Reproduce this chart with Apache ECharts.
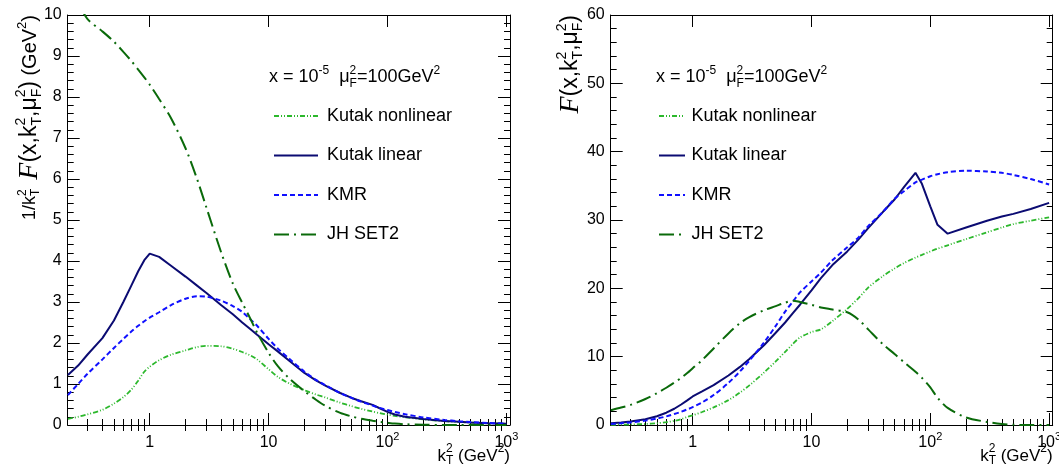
<!DOCTYPE html>
<html><head><meta charset="utf-8">
<script src="https://cdn.jsdelivr.net/npm/echarts@6/dist/echarts.min.js"></script>
<style>html,body{margin:0;padding:0;background:#fff}#c{width:1059px;height:475px}</style>
</head><body><div id="c"></div>
<script>
// ---------------- data ----------------
const kt2 = [0.205, 0.25, 0.3, 0.4, 0.5, 0.6, 0.7, 0.8, 0.9, 1, 1.2, 1.5, 2, 2.5, 3, 4, 5, 6, 7, 8,
             10, 12, 15, 20, 25, 30, 40, 50, 60, 75, 85, 100, 115, 140, 200, 300, 400, 500, 700, 1000];

// left panel: 1/kT^2 F(x,kT^2,muF^2)
const kutakNonlinearL = [0.15, 0.2, 0.26, 0.37, 0.52, 0.68, 0.86, 1.08, 1.30, 1.42, 1.58, 1.71, 1.82, 1.90, 1.93, 1.92, 1.86, 1.78, 1.70, 1.60,
                         1.36, 1.17, 1.01, 0.85, 0.744, 0.67, 0.545, 0.458, 0.395, 0.327, 0.293, 0.254, 0.224, 0.188, 0.136, 0.094, 0.072, 0.059, 0.043, 0.030];
const kutakLinearL    = [1.22, 1.45, 1.72, 2.12, 2.55, 3.0, 3.4, 3.75, 4.02, 4.18, 4.10, 3.89, 3.62, 3.40, 3.22, 2.92, 2.70, 2.50, 2.34, 2.20,
                         1.97, 1.79, 1.56, 1.27, 1.09, 0.96, 0.78, 0.66, 0.58, 0.49, 0.415, 0.32, 0.255, 0.20, 0.145, 0.10, 0.077, 0.062, 0.045, 0.0325];
const kmrL            = [0.73, 1.0, 1.25, 1.6, 1.88, 2.1, 2.28, 2.42, 2.53, 2.62, 2.75, 2.92, 3.08, 3.14, 3.13, 3.03, 2.90, 2.76, 2.58, 2.42,
                         2.10, 1.86, 1.61, 1.30, 1.10, 0.97, 0.78, 0.66, 0.57, 0.473, 0.42, 0.364, 0.319, 0.264, 0.186, 0.124, 0.092, 0.073, 0.051, 0.035];
const jhSet2L         = [10.7, 10.3, 9.9, 9.6, 9.35, 9.1, 8.88, 8.67, 8.48, 8.3, 7.95, 7.5, 6.75, 6.0, 5.3, 4.2, 3.45, 2.98, 2.6, 2.25,
                         1.76, 1.43, 1.13, 0.825, 0.616, 0.467, 0.295, 0.208, 0.153, 0.104, 0.081, 0.055, 0.035, 0.018, 0.0055, 0.0015, 0.0004, 0.0001, 0, 0];

// right panel: F(x,kT^2,muF^2)
const kutakNonlinearR = [0.03, 0.05, 0.078, 0.148, 0.26, 0.41, 0.6, 0.86, 1.17, 1.42, 1.9, 2.57, 3.64, 4.75, 5.8, 7.7, 9.3, 10.7, 11.9, 12.8,
                         13.6, 14.0, 15.2, 17.0, 18.6, 20.1, 21.8, 22.9, 23.7, 24.5, 24.9, 25.4, 25.8, 26.3, 27.2, 28.2, 28.9, 29.4, 29.9, 30.4];
const kutakLinearR    = [0.25, 0.36, 0.52, 0.85, 1.28, 1.8, 2.38, 3.0, 3.6, 4.18, 4.92, 5.84, 7.24, 8.5, 9.66, 11.7, 13.5, 15.0, 16.4, 17.6,
                         19.7, 21.5, 23.4, 25.4, 27.2, 28.8, 31.2, 33.0, 34.8, 36.9, 35.3, 32.0, 29.3, 28.0, 28.9, 29.9, 30.5, 30.9, 31.6, 32.5];
const kmrR            = [0.15, 0.25, 0.375, 0.64, 0.94, 1.26, 1.6, 1.94, 2.28, 2.62, 3.3, 4.38, 6.16, 7.85, 9.4, 12.1, 14.5, 16.6, 18.1, 19.4,
                         21.0, 22.3, 24.1, 26.0, 27.5, 29.1, 31.2, 33.1, 34.2, 35.5, 35.9, 36.4, 36.7, 37.0, 37.2, 37.1, 36.9, 36.6, 36.0, 35.2];
const jhSet2R         = [2.15, 2.55, 2.95, 3.8, 4.65, 5.45, 6.2, 6.9, 7.6, 8.3, 9.5, 11.2, 13.4, 14.9, 15.8, 16.8, 17.4, 17.9, 18.2, 18.0,
                         17.6, 17.2, 16.9, 16.5, 15.4, 14.0, 11.8, 10.4, 9.2, 7.8, 6.9, 5.5, 4.0, 2.5, 1.1, 0.45, 0.15, 0.04, 0, 0];

const seriesNames = ['Kutak nonlinear', 'Kutak linear', 'KMR', 'JH SET2'];
const xMajorTicks = [1, 10, 100, 1000];
const xMinorTicks = [0.3, 0.4, 0.5, 0.6, 0.7, 0.8, 0.9, 2, 3, 4, 5, 6, 7, 8, 9,
                     20, 30, 40, 50, 60, 70, 80, 90, 200, 300, 400, 500, 600, 700, 800, 900];
const xRange = [0.2042, 1072];     // k_T^2 range of the frame
const yRangeL = [0, 10];
const yRangeR = [0, 60];

// ---------------- helpers ----------------
const SANS = '"Liberation Sans", Arial, Helvetica, sans-serif';
const SERIF = '"Liberation Serif", "Times New Roman", serif';
const lg = Math.log10;
const styles = {
  'Kutak nonlinear': {color: '#2cb82c', width: 1.8, type: [5, 2, 1, 2, 1, 2], smooth: 0.3},
  'Kutak linear':    {color: '#0b0b72', width: 2,   type: 'solid', smooth: false},
  'KMR':             {color: '#1010ff', width: 2,   type: [5, 3], smooth: 0.3},
  'JH SET2':         {color: '#0a6a0a', width: 2,   type: [15, 5, 2, 5], smooth: 0.3}
};

const mctx = document.createElement('canvas').getContext('2d');
function fontOf(p) { return (p.it ? 'italic ' : '') + p.s + 'px ' + (p.ff || SANS); }
function latex(pieces, x, y, rot, align) {
  let cx = 0, stackW = 0; const items = [];
  for (const p of pieces) {
    mctx.font = fontOf(p);
    const w = mctx.measureText(p.t).width;
    items.push({p, x: cx});
    if (p.stack) { stackW = w; }
    else { cx += Math.max(w, stackW); stackW = 0; }
  }
  const off = align === 'right' ? -cx : (align === 'center' ? -cx / 2 : 0);
  return {
    type: 'group', x, y, rotation: rot || 0, silent: true,
    children: items.map(it => ({
      type: 'text', x: it.x + off, y: it.p.dy || 0,
      style: {text: it.p.t, font: fontOf(it.p), fill: '#000', align: 'left', verticalAlign: 'middle'}
    }))
  };
}

function xAxesFor(gi) {
  const base = {type: 'value', gridIndex: gi, min: lg(xRange[0]), max: lg(xRange[1]), splitLine: {show: false},
    axisLine: {show: true, onZero: false, lineStyle: {color: '#000', width: 1}}};
  const maj = xMajorTicks.map(lg), mn = xMinorTicks.map(lg);
  const tick = (vals, len) => ({show: true, inside: true, length: len, customValues: vals, lineStyle: {color: '#000', width: 1}});
  return [
    Object.assign({}, base, {position: 'bottom', axisTick: tick(maj, 12),
      axisLabel: {show: true, customValues: maj, margin: 6, color: '#000',
        formatter: v => { const e = Math.round(v); return e === 0 ? '{b|1}' : e === 1 ? '{b|10}' : '{b|10}{s|' + e + '}'; },
        rich: {b: {fontSize: 16, fontFamily: SANS, color: '#000', padding: [4, 0, 2, 0]},
               s: {fontSize: 11, fontFamily: SANS, color: '#000', padding: [0, 0, 11, 0]}}}}),
    Object.assign({}, base, {position: 'bottom', axisLine: {show: false}, axisTick: tick(mn, 6), axisLabel: {show: false}}),
    Object.assign({}, base, {position: 'top', axisTick: tick(maj, 12), axisLabel: {show: false}}),
    Object.assign({}, base, {position: 'top', axisLine: {show: false}, axisTick: tick(mn, 6), axisLabel: {show: false}})
  ];
}
function yAxesFor(gi, range, interval) {
  const base = {type: 'value', gridIndex: gi, min: range[0], max: range[1], interval, splitLine: {show: false},
    axisLine: {show: true, onZero: false, lineStyle: {color: '#000', width: 1}},
    axisTick: {show: true, inside: true, length: 12, lineStyle: {color: '#000', width: 1}},
    minorTick: {show: true, splitNumber: 5, length: 6, lineStyle: {color: '#000', width: 1}}};
  return [
    Object.assign({}, base, {position: 'left', axisLabel: {show: true, margin: 6, color: '#000', fontSize: 16, fontFamily: SANS}}),
    Object.assign({}, base, {position: 'right', axisLabel: {show: false}})
  ];
}
function seriesFor(xi, yi, arrs) {
  return seriesNames.map((n, j) => {
    const st = styles[n];
    return {type: 'line', name: n, xAxisIndex: xi, yAxisIndex: yi, symbol: 'none', smooth: st.smooth,
      clip: true, silent: true, animation: false,
      data: kt2.map((k, i) => [lg(k), arrs[j][i]]),
      lineStyle: {color: st.color, width: st.width, type: st.type}, itemStyle: {color: st.color}};
  });
}
function legendAt(left, iw, pad) {
  return {data: seriesNames, orient: 'vertical', left, top: 107, padding: 0, itemWidth: iw, itemHeight: 18, itemGap: 21.5,
    selectedMode: false, itemStyle: {opacity: 0},
    textStyle: {fontSize: 18, color: '#000', fontFamily: SANS, padding: [0, 0, 0, pad]}};
}

const S = 18, SS = 12;
const header = [{t: 'x = 10', s: S}, {t: '-5', s: SS, dy: -7}, {t: '  \u03bc', s: S}, {t: '2', s: SS, dy: -7, stack: true},
                {t: 'F', s: SS, dy: 6}, {t: '=100GeV', s: S}, {t: '2', s: SS, dy: -7}];
const T = 23, TS = 14;
const fPart = [{t: 'F', s: 28, ff: SERIF, it: true}, {t: '(x,k', s: T}, {t: '2', s: TS, dy: -9, stack: true}, {t: 'T', s: TS, dy: 7},
               {t: ',\u03bc', s: T}, {t: '2', s: TS, dy: -9, stack: true}, {t: 'F', s: TS, dy: 7}, {t: ')', s: T}];
const yTitleL = [{t: '1/k', s: 18}, {t: '2', s: 12, dy: -7, stack: true}, {t: 'T', s: 12, dy: 6}, {t: '  ', s: 16}]
  .concat(fPart, [{t: ' (GeV', s: 20}, {t: '2', s: 13, dy: -8}, {t: ')', s: 20}]);
const xTitle = [{t: 'k', s: 17}, {t: '2', s: 12, dy: -7, stack: true}, {t: 'T', s: 12, dy: 5}, {t: ' (GeV', s: 17}, {t: '2', s: 12, dy: -7}, {t: ')', s: 17}];

const chart = echarts.init(document.getElementById('c'), null, {renderer: 'canvas'});
chart.setOption({
  animation: false,
  backgroundColor: '#fff',
  grid: [
    {left: 67.7, top: 15, width: 442.3, height: 410, containLabel: false, outerBoundsMode: 'none'},
    {left: 610.7, top: 15, width: 442, height: 410, containLabel: false, outerBoundsMode: 'none'}
  ],
  xAxis: xAxesFor(0).concat(xAxesFor(1)),
  yAxis: yAxesFor(0, yRangeL, 1).concat(yAxesFor(1, yRangeR, 10)),
  legend: [legendAt(273, 44, 4), legendAt(658, 26, 1.5)],
  series: seriesFor(0, 0, [kutakNonlinearL, kutakLinearL, kmrL, jhSet2L])
          .concat(seriesFor(4, 2, [kutakNonlinearR, kutakLinearR, kmrR, jhSet2R])),
  graphic: [
    latex(header, 269, 77.5, 0, 'left'),
    latex(header, 656, 77.5, 0, 'left'),
    latex(yTitleL, 30, 15, Math.PI / 2, 'right'),
    latex(fPart, 571, 15, Math.PI / 2, 'right'),
    latex(xTitle, 510, 456, 0, 'right'),
    latex(xTitle, 1052.7, 456, 0, 'right')
  ]
});
</script></body></html>
